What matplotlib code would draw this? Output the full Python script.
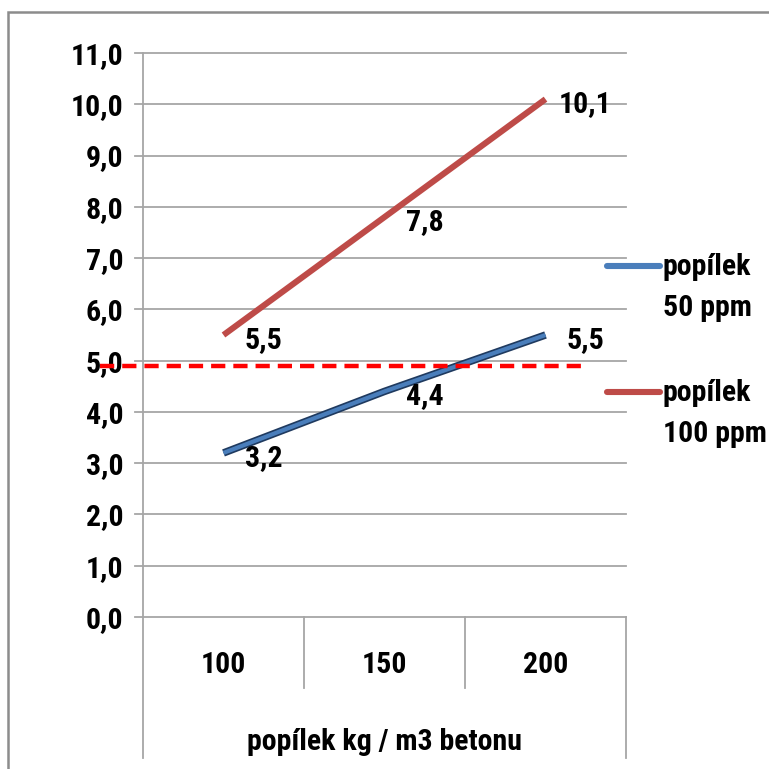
import matplotlib
matplotlib.use("Agg")
import matplotlib.pyplot as plt
from matplotlib.lines import Line2D
from matplotlib.patches import Rectangle
from matplotlib import font_manager
import numpy as np

categories = ["100", "150", "200"]
series_50 = [3.2, 4.4, 5.5]
series_100 = [5.5, 7.8, 10.1]
series_names = ["popílek\n50 ppm", "popílek\n100 ppm"]
limit_value = 4.9
y_ticks = [0, 1, 2, 3, 4, 5, 6, 7, 8, 9, 10, 11]
x_title = "popílek kg / m3 betonu"

names = {f.name for f in font_manager.fontManager.ttflist}
FS, FW = 19.5, "heavy"
plt.rcParams['font.family'] = ['Lato', 'DejaVu Sans']
for cand in ("Roboto Condensed", "Open Sans Condensed", "Liberation Sans Narrow"):
    if cand in names:
        plt.rcParams['font.family'] = [cand, 'DejaVu Sans']
        FS, FW = 21.5, "bold"
        break

W = H = 769
fig = plt.figure(figsize=(W / 100, H / 100), dpi=100)

def fx(px):
    return px / W

def fy(py):
    return 1 - py / H

# outer frame
fig.patches.append(Rectangle((fx(8), fy(900)), 2.0, fy(12) - fy(900), transform=fig.transFigure,
                             fill=False, edgecolor="#8c8c8c", linewidth=1.8, zorder=0))

x0, x1, yb, yt = 143, 626, 617, 53
ax = fig.add_axes([fx(x0), fy(yb), fx(x1) - fx(x0), fy(yt) - fy(yb)])
ax.set_xlim(0, 3)
ax.set_ylim(0, 11)
for s in ax.spines.values():
    s.set_visible(False)
grid_c = "#a6a6a6"
for v in y_ticks:
    ax.plot([-8 / 161, 3], [v, v], color=grid_c, lw=1.3, clip_on=False, zorder=1)
ax.set_yticks(y_ticks)
ax.set_yticklabels([f"{v:.1f}".replace(".", ",") for v in y_ticks], fontsize=FS, fontweight=FW)
ax.tick_params(axis="y", length=0, pad=14)
ax.set_xticks([])

# axis line & category dividers
per_unit = (yb - yt) / 11
def ydata(py):
    return (yb - py) / per_unit
ax.plot([0, 0], [11, ydata(758)], color=grid_c, lw=1.3, clip_on=False)
ax.plot([3, 3], [0, ydata(758)], color=grid_c, lw=1.3, clip_on=False)
for i in (1, 2):
    ax.plot([i, i], [0, ydata(688)], color=grid_c, lw=1.3, clip_on=False)

xs = np.arange(len(categories)) + 0.5
for i, c in enumerate(categories):
    ax.text(xs[i], ydata(665), c, ha="center", va="center", fontsize=FS, fontweight=FW)
ax.text(1.5, ydata(742), x_title, ha="center", va="center", fontsize=FS, fontweight=FW)

blue = "#4a7ebb"
red = "#be4b48"
ax.plot(xs, series_50, color="#1f3a5f", lw=5.4, solid_capstyle="butt", zorder=3)
ax.plot(xs, series_50, color=blue, lw=3.0, solid_capstyle="butt", zorder=4)
ax.plot(xs, series_100, color=red, lw=4.4, solid_capstyle="butt", zorder=4)

# limit line
ax.plot([-43 / 161, 585 / 161 - 143 / 161], [limit_value, limit_value], color="#ff0000", lw=3.2,
        ls=(0, (3.2, 1.8)), clip_on=False, zorder=5)

for vals in (series_50, series_100):
    for x, v in zip(xs, vals):
        ax.annotate(f"{v:.1f}".replace(".", ","), (x, v), xytext=(40, -5), textcoords="offset pixels",
                    ha="center", va="center", fontsize=FS, fontweight=FW, zorder=6)

# legend
for (ly, col, name) in ((266, blue, series_names[0]), (392, red, series_names[1])):
    fig.add_artist(Line2D([fx(607), fx(660)], [fy(ly), fy(ly)], color=col, lw=4.4,
                          solid_capstyle="round", transform=fig.transFigure))
    fig.text(fx(663), fy(ly - 13), name, ha="left", va="top", fontsize=FS, fontweight=FW,
             linespacing=1.6)

fig.savefig("out.png", dpi=100)
